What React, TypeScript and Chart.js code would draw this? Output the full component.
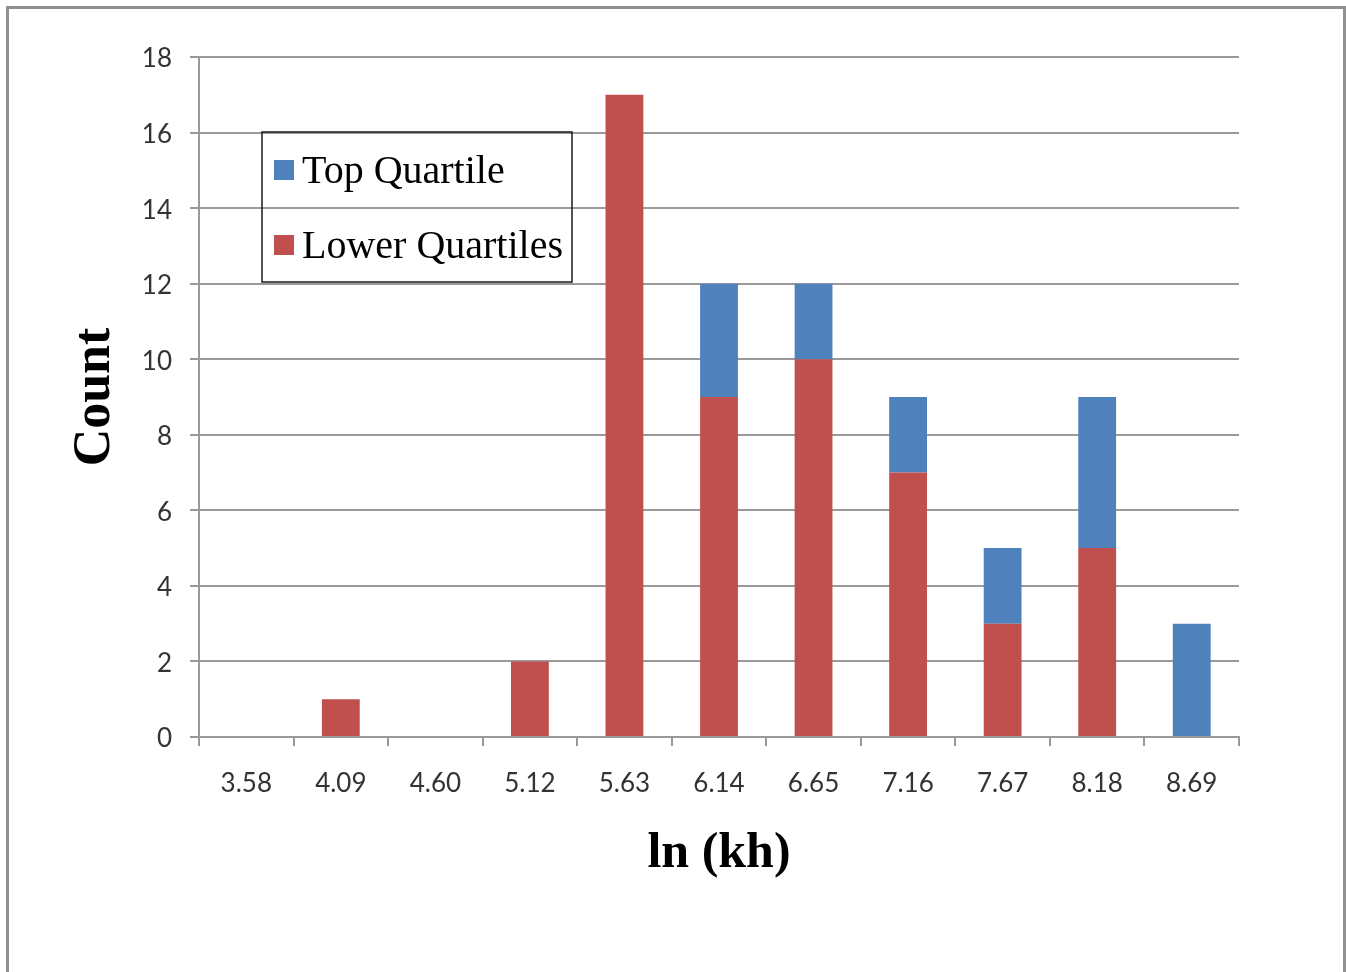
import React, { useEffect, useRef } from "react";
import { Chart, registerables } from "chart.js";

Chart.register(...registerables);

// Histogram bins of ln(kh)
const categories = ["3.58", "4.09", "4.60", "5.12", "5.63", "6.14", "6.65", "7.16", "7.67", "8.18", "8.69"];
const lowerQuartiles = [0, 1, 0, 2, 17, 9, 10, 7, 3, 5, 0];
const topQuartile = [0, 0, 0, 0, 0, 3, 2, 2, 2, 4, 3];
const seriesNames = ["Lower Quartiles", "Top Quartile"];
const seriesColors = ["#C0504D", "#4F81BD"];
const yMin = 0;
const yMax = 18;
const yStep = 2;

const GRID = "#9a9a9a";
const LABEL = "#333333";

// Boxed legend drawn inside the plot area, top series listed first
const boxLegend = {
  id: "boxLegend",
  afterDraw(chart: any) {
    const ctx = chart.ctx as CanvasRenderingContext2D;
    const x = 262, y = 132, w = 310, h = 150;
    ctx.save();
    ctx.strokeStyle = "#1a1a1a";
    ctx.lineWidth = 1.5;
    ctx.strokeRect(x, y, w, h);
    const items = [...chart.data.datasets].reverse();
    ctx.font = '40px "Liberation Serif"';
    ctx.textBaseline = "alphabetic";
    ctx.textAlign = "left";
    items.forEach((d: any, i: number) => {
      const top = y + 28 + i * 75;
      ctx.fillStyle = d.backgroundColor;
      ctx.fillRect(x + 12, top, 20, 20);
      ctx.fillStyle = "#000";
      ctx.fillText(d.label, x + 40, top + 23);
    });
    ctx.restore();
  },
};

export default function App() {
  const canvasRef = useRef<HTMLCanvasElement | null>(null);

  useEffect(() => {
    if (!canvasRef.current) return;
    const chart = new Chart(canvasRef.current, {
      type: "bar",
      data: {
        labels: categories,
        datasets: [
          {
            label: seriesNames[0],
            data: lowerQuartiles,
            backgroundColor: seriesColors[0],
            borderWidth: 0,
            barPercentage: 0.4,
            categoryPercentage: 1,
          },
          {
            label: seriesNames[1],
            data: topQuartile,
            backgroundColor: seriesColors[1],
            borderWidth: 0,
            barPercentage: 0.4,
            categoryPercentage: 1,
          },
        ],
      },
      options: {
        responsive: false,
        animation: false,
        devicePixelRatio: 1,
        layout: { padding: { left: 64, top: 57, right: 107, bottom: 88 } },
        plugins: {
          legend: { display: false },
          tooltip: { enabled: false },
        },
        scales: {
          x: {
            stacked: true,
            afterFit: (s: any) => {
              s.height = 147;
            },
            grid: {
              offset: true,
              drawOnChartArea: false,
              drawTicks: true,
              tickLength: 9,
              color: GRID,
              lineWidth: 2,
            },
            border: { display: true, color: GRID, width: 2 },
            ticks: {
              padding: 22,
              color: LABEL,
              font: { family: "Lato", size: 26 },
              maxRotation: 0,
              autoSkip: false,
            },
            title: {
              display: true,
              text: "ln (kh)",
              color: "#000",
              padding: 0,
              font: { family: "Liberation Serif", size: 50, weight: "bold" },
            },
          },
          y: {
            stacked: true,
            min: yMin,
            max: yMax,
            afterFit: (s: any) => {
              s.width = 135;
            },
            grid: {
              drawTicks: true,
              tickLength: 9,
              color: GRID,
              lineWidth: 2,
            },
            border: { display: true, color: GRID, width: 2 },
            ticks: {
              stepSize: yStep,
              padding: 18,
              labelOffset: 2,
              color: LABEL,
              font: { family: "Lato", size: 26 },
            },
            title: {
              display: true,
              text: "Count",
              color: "#000",
              padding: 0,
              font: { family: "Liberation Serif", size: 52, weight: "bold" },
            },
          },
        },
      },
      plugins: [boxLegend],
    });
    return () => chart.destroy();
  }, []);

  return (
    <div
      style={{
        position: "fixed",
        left: 0,
        top: 0,
        width: 1346,
        height: 972,
        background: "#fff",
        overflow: "hidden",
      }}
    >
      <div
        style={{
          position: "absolute",
          left: 6,
          top: 6,
          width: 1340,
          height: 1000,
          boxSizing: "border-box",
          border: "3px solid #909090",
        }}
      />
      <canvas
        ref={canvasRef}
        width={1346}
        height={972}
        style={{ position: "absolute", left: 0, top: 0 }}
      />
    </div>
  );
}
